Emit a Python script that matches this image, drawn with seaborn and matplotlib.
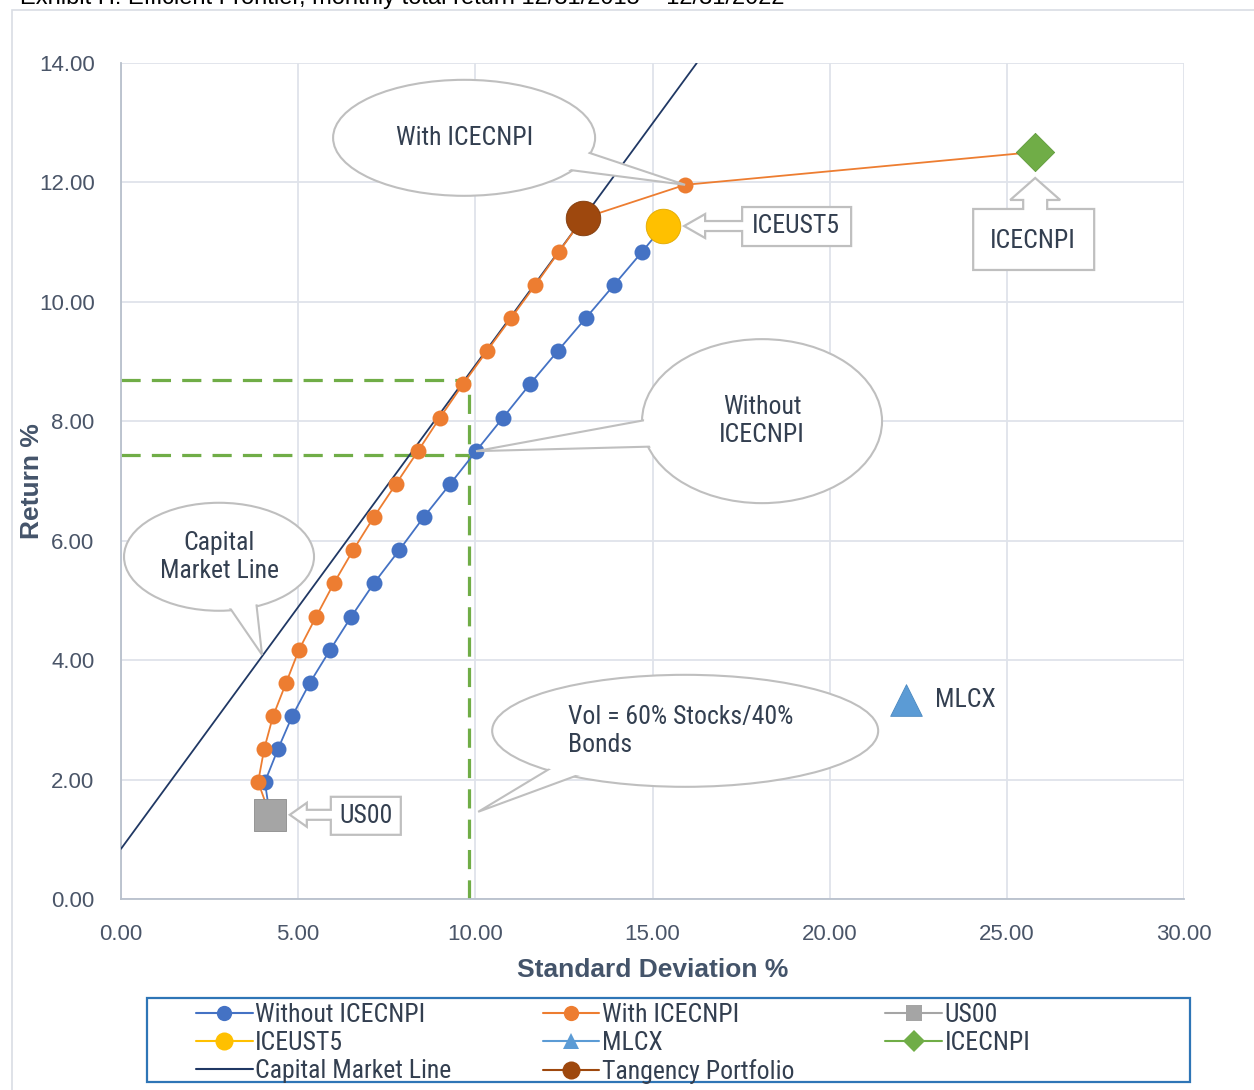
import numpy as np
import pandas as pd
import matplotlib
matplotlib.use('Agg')
import matplotlib.pyplot as plt
import matplotlib.transforms as mtransforms
from matplotlib.patches import Ellipse, Polygon, Rectangle
from matplotlib.lines import Line2D
import seaborn as sns

## DATA (standard deviation %, return %)
without_sd = [4.20, 4.06, 4.43, 4.83, 5.33, 5.90, 6.49, 7.14, 7.85, 8.55, 9.29,
              10.02, 10.78, 11.54, 12.33, 13.12, 13.91, 14.71, 15.30]
without_ret = [1.41, 1.96, 2.51, 3.06, 3.62, 4.17, 4.72, 5.29, 5.84, 6.40, 6.95,
               7.50, 8.06, 8.62, 9.18, 9.73, 10.28, 10.84, 11.27]
with_sd = [4.20, 3.87, 4.04, 4.29, 4.66, 5.02, 5.50, 6.01, 6.55, 7.14, 7.76,
           8.38, 9.00, 9.65, 10.33, 11.01, 11.69, 12.36, 13.04, 15.92, 25.80]
with_ret = [1.41, 1.96, 2.51, 3.06, 3.62, 4.17, 4.72, 5.29, 5.84, 6.40, 6.95,
            7.50, 8.06, 8.62, 9.18, 9.73, 10.28, 10.84, 11.40, 11.96, 12.51]

us00 = (4.20, 1.41)
iceust5 = (15.30, 11.27)
mlcx = (22.16, 3.33)
icecnpi = (25.80, 12.51)
tangency = (13.04, 11.40)
cml_sd = [0.0, 16.25]
cml_ret = [0.84, 14.0]

# 60/40 volatility reference
vol_sd = 9.82
vol_ret_with = 8.69
vol_ret_without = 7.44

title = 'Exhibit H: Efficient Frontier, monthly total return 12/31/2015 \u2013 12/31/2022'

## STYLE
BLUE, ORANGE, GRAY = '#4472C4', '#ED7D31', '#A5A5A5'
YELLOW, LBLUE, GREEN = '#FFC000', '#5B9BD5', '#70AD47'
NAVY, BROWN = '#203864', '#9E480E'
TXT = '#333F50'
FS = 18.5

sns.set_theme(style='whitegrid')
plt.rcParams['font.family'] = ['Liberation Sans', 'DejaVu Sans']
narrow = ['Liberation Sans Narrow', 'Roboto Condensed', 'Liberation Sans', 'DejaVu Sans']

fig = plt.figure(figsize=(12.54, 10.9), dpi=100)
ax = fig.add_axes([121/1254, 1 - 899/1090, (1184-121)/1254, (899-63)/1090])

# dashed 60/40 lines
dash_kw = dict(color=GREEN, lw=2.3, dashes=(6, 3.5), zorder=2)
ax.plot([0, vol_sd], [vol_ret_with, vol_ret_with], **dash_kw)
ax.plot([0, vol_sd], [vol_ret_without, vol_ret_without], **dash_kw)
ax.plot([vol_sd, vol_sd], [0, vol_ret_with], **dash_kw)

# capital market line
sns.lineplot(x=cml_sd, y=cml_ret, ax=ax, color=NAVY, lw=1.3, sort=False,
             estimator=None, zorder=3)

# frontiers
sns.lineplot(x=without_sd, y=without_ret, ax=ax, color=BLUE, lw=1.3, sort=False,
             estimator=None, marker='o', markersize=11.5, markeredgewidth=0,
             markevery=slice(1, len(without_sd) - 1), zorder=4)
with_marks = list(range(1, len(with_sd) - 3)) + [len(with_sd) - 2]
sns.lineplot(x=with_sd, y=with_ret, ax=ax, color=ORANGE, lw=1.3, sort=False,
             estimator=None, marker='o', markersize=11.5, markeredgewidth=0,
             markevery=with_marks, zorder=4)

# single assets
pt_kw = dict(ax=ax, linewidth=0.6, zorder=6)
sns.scatterplot(x=[us00[0]], y=[us00[1]], marker='s', s=560, color=GRAY,
                edgecolor='#8c8c8c', **pt_kw)
sns.scatterplot(x=[iceust5[0]], y=[iceust5[1]], marker='o', s=620, color=YELLOW,
                edgecolor='#e0a800', **pt_kw)
sns.scatterplot(x=[mlcx[0]], y=[mlcx[1]], marker='^', s=520, color=LBLUE,
                edgecolor='#4a88c0', **pt_kw)
sns.scatterplot(x=[icecnpi[0]], y=[icecnpi[1]], marker='D', s=380, color=GREEN,
                edgecolor='#5e9a3a', **pt_kw)
sns.scatterplot(x=[tangency[0]], y=[tangency[1]], marker='o', s=620, color=BROWN,
                edgecolor='#7f3a0b', **pt_kw)

## AXES
ax.set_xlim(0, 30)
ax.set_ylim(0, 14)
ax.set_xticks(np.arange(0, 31, 5))
ax.set_yticks(np.arange(0, 15, 2))
ax.xaxis.set_major_formatter(matplotlib.ticker.FormatStrFormatter('%.2f'))
ax.yaxis.set_major_formatter(matplotlib.ticker.FormatStrFormatter('%.2f'))
ax.tick_params(length=0, labelsize=16, labelcolor='#4a5568')
ax.tick_params(axis='x', pad=18)
ax.tick_params(axis='y', pad=19)
ax.grid(color='#dfe3ea', lw=1.3)
ax.set_facecolor('white')
for s in ['top', 'right']:
    ax.spines[s].set_visible(False)
for s in ['left', 'bottom']:
    ax.spines[s].set_color('#b8c0cc')
    ax.spines[s].set_linewidth(1.3)
ax.set_xlabel('Standard Deviation %', fontsize=19, fontweight='bold',
              color='#44546A')
ax.set_ylabel('Return %', fontsize=19, fontweight='bold', color='#44546A')
ax.xaxis.set_label_coords(0.5, -(970 - 899) / 836, transform=ax.transAxes)
ax.xaxis.label.set_va('center')
ax.yaxis.set_label_coords(-(121 - 32) / 1063, 0.5, transform=ax.transAxes)
ax.yaxis.label.set_va('center')


## CALLOUTS (shapes in pixel offsets from an anchor data point)
def anchored(pt):
    return fig.dpi_scale_trans + mtransforms.ScaledTranslation(pt[0], pt[1], ax.transData)


def bubble(pt, center, w, h, base, lines, text_off, ha='center'):
    tr = anchored(pt)
    c = np.array(center) / 100
    b = [c + 0.9 * (np.array(p) / 100 - c) for p in base]
    ec = '#bfbfbf'
    ax.add_patch(Ellipse(c, w / 100, h / 100, transform=tr, fc='white', ec=ec,
                         lw=1.5, zorder=7, clip_on=False))
    ax.add_patch(Polygon([b[0], (0, 0), b[1]], closed=True, transform=tr,
                         fc='white', ec=ec, lw=1.5, zorder=7.1, clip_on=False))
    ax.add_patch(Ellipse(c, (w - 4) / 100, (h - 4) / 100, transform=tr,
                         fc='white', ec='none', zorder=7.2, clip_on=False))
    ax.text(text_off[0] / 100, text_off[1] / 100, lines, transform=tr, ha=ha,
            va='center', fontsize=FS, family=narrow, color=TXT, zorder=8,
            linespacing=1.2)


def arrow_box(pt, poly, text_off, label):
    tr = anchored(pt)
    ax.add_patch(Polygon(np.array(poly) / 100, closed=True, transform=tr,
                         fc='white', ec='#bfbfbf', lw=1.6, zorder=7, clip_on=False))
    ax.text(text_off[0] / 100, text_off[1] / 100, label, transform=tr,
            ha='center', va='center', fontsize=FS, family=narrow, color=TXT,
            zorder=8)


bubble((with_sd[-2], with_ret[-2]), (-221, 47), 262, 116,
       [(-117, 13), (-90, 33)], 'With ICECNPI', (-221, 47))
bubble((without_sd[11], without_ret[11]), (286, 30), 240, 164,
       [(166, 33), (174, 2)], 'Without\nICECNPI', (286, 30))
bubble((3.98, 4.09), (-43, 98), 190, 108,
       [(-37, 50), (-2, 50)], 'Capital\nMarket Line', (-43, 98))
bubble((vol_sd + 0.26, 1.46), (207, 81), 386, 112,
       [(65, 44), (102, 37)], 'Vol = 60% Stocks/40%\nBonds', (90, 81), ha='left')

arrow_box(iceust5, [(21, 0), (42, 12), (42, 5), (79, 5), (79, 19), (188, 19),
                    (188, -20), (79, -20), (79, -5), (42, -5), (42, -12)],
          (133, 0), 'ICEUST5')
arrow_box(us00, [(20, 0), (37, 12), (37, 5), (61, 5), (61, 18), (131, 18),
                 (131, -20), (61, -20), (61, -5), (37, -5), (37, -12)],
          (96, -1), 'US00')
arrow_box(icecnpi, [(0, -26), (25, -48), (12, -48), (12, -57), (59, -57),
                    (59, -118), (-62, -118), (-62, -57), (-12, -57), (-12, -48),
                    (-25, -48)],
          (-2, -89), 'ICECNPI')

ax.text(0.29, 0, 'MLCX', transform=anchored(mlcx), ha='left', va='center',
        fontsize=FS, family=narrow, color=TXT, zorder=8)

## LEGEND
def h(color, marker=None, ms=11, lw=1.5):
    return Line2D([], [], color=color, marker=marker, markersize=ms, lw=lw,
                  markeredgewidth=0)


handles = [h(BLUE, 'o'), h(YELLOW, 'o', 13), h(NAVY),
           h(ORANGE, 'o'), h(LBLUE, '^', 12), h(BROWN, 'o', 13),
           h(GRAY, 's', 12), h(GREEN, 'D', 11)]
labels = ['Without ICECNPI', 'ICEUST5', 'Capital Market Line',
          'With ICECNPI', 'MLCX', 'Tangency Portfolio',
          'US00', 'ICECNPI']
leg = fig.legend(handles, labels, ncol=3, loc='upper left',
                 bbox_to_anchor=(196/1254, 1 - 1003/1090),
                 prop={'family': narrow, 'size': FS}, labelcolor=TXT,
                 frameon=False, handlelength=2.2, handletextpad=0.1,
                 labelspacing=0.15, borderpad=0, borderaxespad=0,
                 columnspacing=3.55)
fig.patches.append(Rectangle((147/1254, 1 - 1082/1090), (1190-147)/1254, 84/1090,
                             transform=fig.transFigure, fill=False,
                             ec='#2E75B6', lw=1.6))

# outer frame and clipped title
fig.patches.append(Rectangle((12/1254, -0.01), 1.1, 1 - 10/1090 + 0.01,
                             transform=fig.transFigure, fill=False,
                             ec='#d9dde4', lw=1.2))
fig.text(20/1254, 1 - 4/1090, title, fontsize=17, va='baseline', ha='left',
         color='black')

fig.savefig('out.png', dpi=100)
